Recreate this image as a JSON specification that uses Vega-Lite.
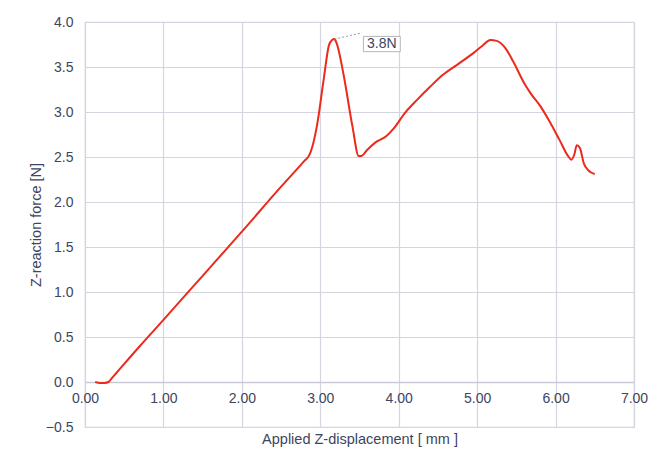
{
  "$schema": "https://vega.github.io/schema/vega-lite/v6.json",
  "autosize": {"type": "none"},
  "padding": {"left": 85, "top": 22, "right": 22, "bottom": 44},
  "width": 549,
  "height": 405,
  "background": "white",
  "config": {
    "font": "Liberation Sans",
    "view": {"stroke": "#d3d5df", "strokeWidth": 1.2},
    "axis": {
      "labelFont": "Liberation Sans",
      "titleFont": "Liberation Sans",
      "labelColor": "#3d4560",
      "titleColor": "#3d4560",
      "labelFontSize": 14,
      "titleFontSize": 14.5,
      "titleFontWeight": "normal",
      "gridColor": "#d3d5df",
      "gridWidth": 1.2,
      "gridOpacity": 1,
      "ticks": false,
      "labelFlush": false,
      "labelOverlap": false
    }
  },
  "datasets": {
    "curve": [
      {"d": 0.13, "f": 0.0},
      {"d": 0.19, "f": -0.01},
      {"d": 0.25, "f": -0.01},
      {"d": 0.30, "f": 0.0},
      {"d": 0.34, "f": 0.04},
      {"d": 0.40, "f": 0.10},
      {"d": 0.70, "f": 0.40},
      {"d": 1.00, "f": 0.69},
      {"d": 1.50, "f": 1.18},
      {"d": 2.00, "f": 1.67},
      {"d": 2.50, "f": 2.17},
      {"d": 2.80, "f": 2.46},
      {"d": 2.86, "f": 2.52},
      {"d": 2.90, "f": 2.62},
      {"d": 2.96, "f": 2.86},
      {"d": 3.04, "f": 3.34},
      {"d": 3.11, "f": 3.74},
      {"d": 3.15, "f": 3.80},
      {"d": 3.18, "f": 3.81},
      {"d": 3.21, "f": 3.76},
      {"d": 3.30, "f": 3.40},
      {"d": 3.41, "f": 2.84},
      {"d": 3.49, "f": 2.51},
      {"d": 3.52, "f": 2.51},
      {"d": 3.60, "f": 2.58},
      {"d": 3.70, "f": 2.66},
      {"d": 3.84, "f": 2.73},
      {"d": 3.94, "f": 2.82},
      {"d": 4.08, "f": 2.99},
      {"d": 4.24, "f": 3.14},
      {"d": 4.40, "f": 3.28},
      {"d": 4.56, "f": 3.41},
      {"d": 4.77, "f": 3.54},
      {"d": 4.96, "f": 3.66},
      {"d": 5.06, "f": 3.73},
      {"d": 5.17, "f": 3.80},
      {"d": 5.25, "f": 3.79},
      {"d": 5.36, "f": 3.71},
      {"d": 5.46, "f": 3.56},
      {"d": 5.60, "f": 3.32},
      {"d": 5.68, "f": 3.21},
      {"d": 5.81, "f": 3.06},
      {"d": 5.92, "f": 2.90},
      {"d": 6.05, "f": 2.69},
      {"d": 6.16, "f": 2.51},
      {"d": 6.20, "f": 2.47},
      {"d": 6.24, "f": 2.53},
      {"d": 6.27, "f": 2.63},
      {"d": 6.31, "f": 2.60},
      {"d": 6.36, "f": 2.43},
      {"d": 6.42, "f": 2.35},
      {"d": 6.50, "f": 2.31}
    ],
    "note": [
      {"px": 3.18, "py": 3.81, "lx": 3.53, "ly": 3.88, "bx1": 3.55, "bx2": 4.02, "by1": 3.84, "by2": 3.67, "tx": 3.785, "ty": 3.755, "label": "3.8N"}
    ]
  },
  "layer": [
    {
      "data": {"name": "curve"},
      "mark": {"type": "line", "color": "#ec2a1c", "strokeWidth": 2, "interpolate": "monotone"},
      "encoding": {
        "x": {
          "field": "d", "type": "quantitative",
          "scale": {"domain": [0, 7], "nice": false},
          "axis": {
            "title": "Applied Z-displacement [ mm ]",
            "values": [0, 1, 2, 3, 4, 5, 6, 7],
            "format": ".2f",
            "offset": -45,
            "labelPadding": 9,
            "titlePadding": 27,
            "domainColor": "#c8cad6",
            "domainWidth": 1.5
          }
        },
        "y": {
          "field": "f", "type": "quantitative",
          "scale": {"domain": [-0.5, 4], "nice": false},
          "axis": {
            "title": "Z-reaction force [N]",
            "values": [-0.5, 0, 0.5, 1, 1.5, 2, 2.5, 3, 3.5, 4],
            "format": ".1f",
            "labelPadding": 12,
            "titlePadding": 2,
            "domain": false
          }
        }
      }
    },
    {
      "data": {"name": "note"},
      "mark": {"type": "rule", "color": "#9a9a9a", "strokeDash": [2, 2], "strokeWidth": 1},
      "encoding": {
        "x": {"field": "px", "type": "quantitative"},
        "y": {"field": "py", "type": "quantitative"},
        "x2": {"field": "lx"},
        "y2": {"field": "ly"}
      }
    },
    {
      "data": {"name": "note"},
      "mark": {"type": "rect", "fill": "white", "stroke": "#b5b5b5", "strokeWidth": 1},
      "encoding": {
        "x": {"field": "bx1", "type": "quantitative"},
        "x2": {"field": "bx2"},
        "y": {"field": "by1", "type": "quantitative"},
        "y2": {"field": "by2"}
      }
    },
    {
      "data": {"name": "note"},
      "mark": {"type": "text", "font": "Liberation Sans", "fontSize": 14, "color": "#3d4560"},
      "encoding": {
        "x": {"field": "tx", "type": "quantitative"},
        "y": {"field": "ty", "type": "quantitative"},
        "text": {"field": "label"}
      }
    }
  ]
}
